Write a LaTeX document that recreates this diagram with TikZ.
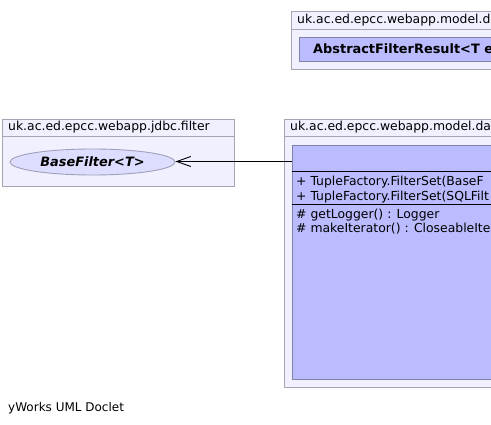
\documentclass[tikz,border=0pt]{standalone}
\usepackage{fontspec}
\setmainfont{DejaVu Sans}
\usetikzlibrary{arrows.meta,shapes.geometric}
\definecolor{pkgfill}{RGB}{240,240,255}
\definecolor{pkgline}{RGB}{165,165,180}
\definecolor{clsfill}{RGB}{187,187,255}
\definecolor{clsline}{RGB}{130,130,165}
\definecolor{ellfill}{RGB}{221,221,255}
\definecolor{ellline}{RGB}{160,160,185}
\tikzset{
  pkgbox/.style={draw=pkgline, fill=pkgfill, line width=0.9pt, inner sep=0pt, anchor=north west},
  clsbox/.style={draw=clsline, fill=clsfill, line width=0.9pt, inner sep=0pt, anchor=north west},
  sep/.style={draw=black, line width=0.9pt},
  pkgsep/.style={draw=pkgline, line width=0.9pt},
  lbl/.style={inner sep=0pt, anchor=base west, font=\fontsize{12.4}{14}\selectfont},
  mbr/.style={inner sep=0pt, anchor=base west, font=\fontsize{12.4}{14}\selectfont},
  ellnode/.style={ellipse, draw=ellline, fill=ellfill, line width=0.9pt, inner sep=0pt,
    minimum width=165pt, minimum height=26pt, font=\fontsize{12.9}{15}\selectfont\bfseries\itshape},
  gen/.style={line width=0.9pt, -{Straight Barb[length=14pt,width=10pt,line width=0.9pt]}}
}
\begin{document}
\begin{tikzpicture}[x=1pt,y=-1pt]
\useasboundingbox (0,0) rectangle (491,425);
\clip (0,0) rectangle (491,425);
\fill[white] (0,0) rectangle (491,425);

% top-right package
\node[pkgbox, minimum width=240pt, minimum height=58pt] (pkgmodel) at (291,11) {};
\coordinate (pmh1) at (291,29);
\coordinate (pmh2) at (531,29);
\draw[pkgsep] (pmh1) -- (pmh2);
\node[lbl] (pmtitle) at (297,24) {uk.ac.ed.epcc.webapp.model.d};
\node[clsbox, minimum width=230pt, minimum height=24pt] (afr) at (299,37) {};
\node[lbl, font=\fontsize{12.9}{15}\selectfont\bfseries] (afrtext) at (313,54) {AbstractFilterResult<T e};

% left package
\node[pkgbox, minimum width=232pt, minimum height=67pt] (pkgjdbc) at (2,119) {};
\coordinate (pjh1) at (2,136);
\coordinate (pjh2) at (234,136);
\draw[pkgsep] (pjh1) -- (pjh2);
\node[lbl] (pjtitle) at (8,131) {uk.ac.ed.epcc.webapp.jdbc.filter};
\node[ellnode] (basefilter) at (92.5,162) {BaseFilter<T>};

% right package
\node[pkgbox, minimum width=250pt, minimum height=268pt] (pkgdata) at (284,119) {};
\coordinate (pdh1) at (284,136);
\coordinate (pdh2) at (534,136);
\draw[pkgsep] (pdh1) -- (pdh2);
\node[lbl] (pdtitle) at (290,131) {uk.ac.ed.epcc.webapp.model.da};
\node[clsbox, minimum width=240pt, minimum height=234pt] (filterset) at (292,145) {};
\coordinate (fs1a) at (292,171);
\coordinate (fs1b) at (532,171);
\coordinate (fs2a) at (292,204);
\coordinate (fs2b) at (532,204);
\draw[sep] (fs1a) -- (fs1b);
\draw[sep] (fs2a) -- (fs2b);
\node[mbr] (c1) at (296,185.5) {+ TupleFactory.FilterSet(BaseF};
\node[mbr] (c2) at (296,201) {+ TupleFactory.FilterSet(SQLFilt};
\node[mbr] (m1) at (296,218.5) {\# getLogger() : Logger};
\node[mbr] (m2) at (296,233) {\# makeIterator() : CloseableIte};

% connector
\coordinate (fsw) at (292,161.5);
\draw[gen] (fsw) -- (basefilter.east |- fsw);

\node[lbl, font=\fontsize{12}{14}\selectfont] (doclet) at (8,412) {yWorks UML Doclet};
\end{tikzpicture}
\end{document}
